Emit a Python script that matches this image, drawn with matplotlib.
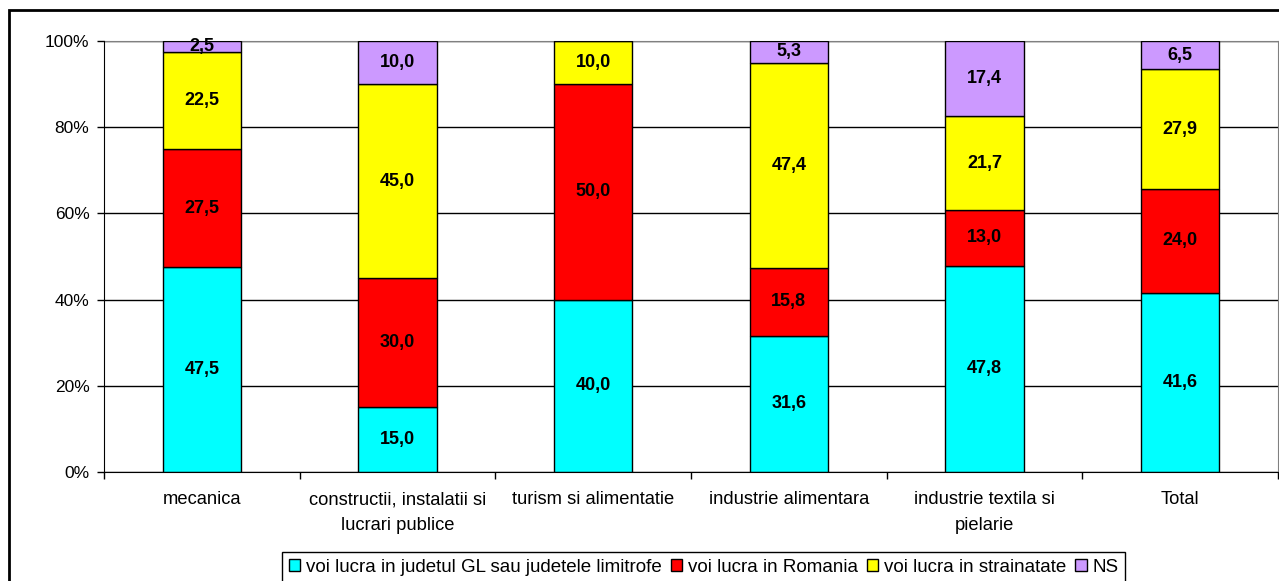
import matplotlib
matplotlib.use("Agg")
import matplotlib.pyplot as plt
import numpy as np
from matplotlib.patches import Rectangle

plt.rcParams['font.family'] = ['Liberation Sans', 'DejaVu Sans']

categories = ["mecanica", "constructii, instalatii si\nlucrari publice", "turism si alimentatie",
              "industrie alimentara", "industrie textila si\npielarie", "Total"]
judet = [47.5, 15.0, 40.0, 31.6, 47.8, 41.6]
romania = [27.5, 30.0, 50.0, 15.8, 13.0, 24.0]
strainatate = [22.5, 45.0, 10.0, 47.4, 21.7, 27.9]
ns = [2.5, 10.0, 0.0, 5.3, 17.4, 6.5]

series = [
    ("voi lucra in judetul GL sau judetele limitrofe", judet, "#00FFFF"),
    ("voi lucra in Romania", romania, "#FF0000"),
    ("voi lucra in strainatate", strainatate, "#FFFF00"),
    ("NS", ns, "#CC99FF"),
]

fig = plt.figure(figsize=(12.79, 5.81), dpi=100)
ax = fig.add_axes([104/1279, 1 - 472/581, (1278 - 104)/1279, (472 - 41)/581])

x = np.arange(len(categories))
bottom = np.zeros(len(categories))
handles = []
for name, vals, col in series:
    vals = np.array(vals)
    b = ax.bar(x, vals, 0.4, bottom=bottom, color=col, edgecolor="black", linewidth=1, label=name, zorder=3)
    handles.append(b)
    for xi, v, bt in zip(x, vals, bottom):
        if v > 0:
            ax.text(xi, bt + v / 2, f"{v:.1f}".replace(".", ","), ha="center", va="center",
                    fontsize=13, fontweight="bold", zorder=4)
    bottom += vals

ax.set_xlim(-0.5, len(categories) - 0.5)
ax.set_ylim(0, 100)
ax.set_yticks([0, 20, 40, 60, 80, 100])
ax.set_yticklabels(["0%", "20%", "40%", "60%", "80%", "100%"], fontsize=12.5)
ax.yaxis.grid(True, color="black", linewidth=1, zorder=0)
ax.set_xticks(x)
ax.set_xticklabels(categories, fontsize=13.2, linespacing=1.65)
ax.set_xticks(np.arange(-0.5, len(categories)), minor=True)
ax.tick_params(axis="x", which="major", length=0, pad=14)
ax.tick_params(axis="x", which="minor", length=5, direction="out", width=1)
ax.tick_params(axis="y", length=5, direction="out", width=1, pad=5.5)

for s in ["top", "right"]:
    ax.spines[s].set_color("#808080")
for s in ["left", "bottom"]:
    ax.spines[s].set_color("black")
    ax.spines[s].set_zorder(5)

fig.legend(handles, [s[0] for s in series], loc="center", bbox_to_anchor=(703.5/1279, 1 - 567/581),
           ncol=4, fontsize=13.5, frameon=True, fancybox=False, edgecolor="black", framealpha=1,
           handlelength=0.6, handleheight=0.6, handletextpad=0.3, columnspacing=0.5,
           borderpad=0.35, borderaxespad=0)

fig.patches.append(Rectangle((9/1279, -0.05), 1.1, 1 - 10/581 + 0.05, transform=fig.transFigure,
                             fill=False, edgecolor="black", linewidth=2, clip_on=False))

fig.savefig("out.png", dpi=100)
